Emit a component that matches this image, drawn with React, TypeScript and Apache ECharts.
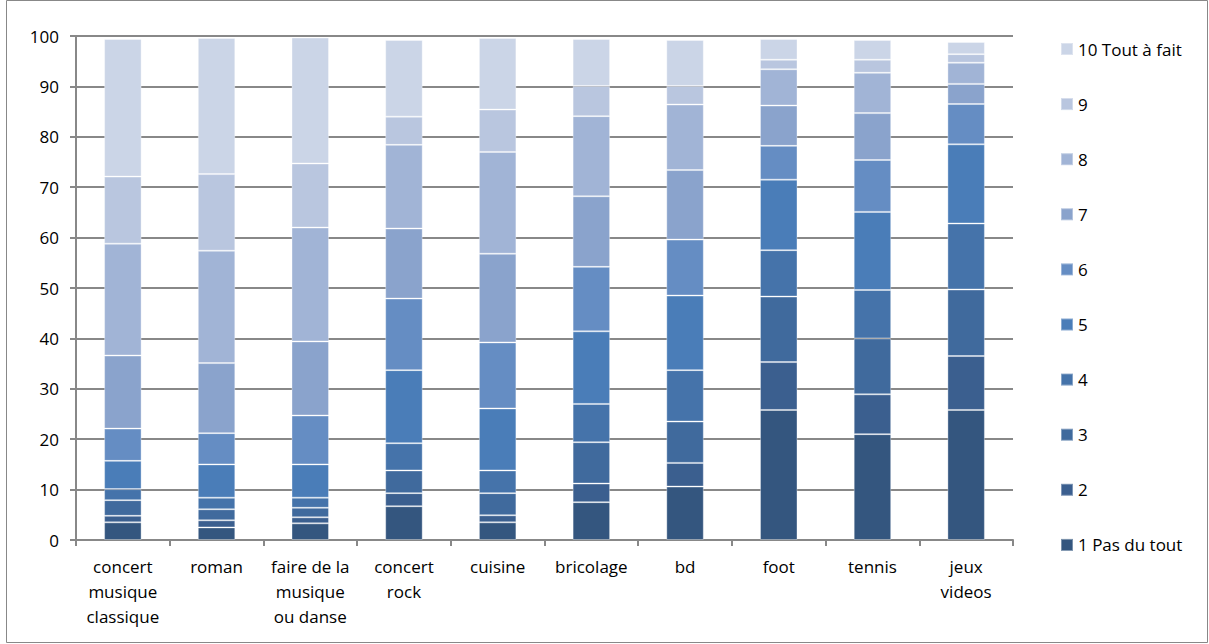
import React, { useEffect, useRef } from "react";
import * as echarts from "echarts";

const categories = [
  "concert\nmusique\nclassique",
  "roman",
  "faire de la\nmusique\nou danse",
  "concert\nrock",
  "cuisine",
  "bricolage",
  "bd",
  "foot",
  "tennis",
  "jeux\nvideos",
];

const seriesNames = ["1 Pas du tout", "2", "3", "4", "5", "6", "7", "8", "9", "10 Tout à fait"];

const s1 = [3.5, 2.5, 3.3, 6.7, 3.5, 7.5, 10.6, 25.8, 21.0, 25.8];
const s2 = [1.3, 1.4, 1.2, 2.6, 1.4, 3.7, 4.7, 9.5, 7.9, 10.7];
const s3 = [3.1, 2.2, 1.9, 4.5, 4.4, 8.2, 8.2, 13.0, 11.1, 13.2];
const s4 = [2.2, 2.3, 2.0, 5.4, 4.5, 7.6, 10.2, 9.2, 9.6, 13.1];
const s5 = [5.6, 6.6, 6.6, 14.5, 12.3, 14.4, 14.8, 14.0, 15.5, 15.7];
const s6 = [6.4, 6.2, 9.7, 14.2, 13.1, 12.8, 11.1, 6.7, 10.3, 8.0];
const s7 = [14.5, 13.9, 14.7, 13.9, 17.6, 14.0, 13.8, 8.0, 9.3, 4.0];
const s8 = [22.2, 22.3, 22.6, 16.6, 20.2, 15.9, 13.0, 7.2, 8.0, 4.2];
const s9 = [13.3, 15.2, 12.7, 5.6, 8.4, 6.0, 3.7, 1.9, 2.6, 1.7];
const s10 = [27.3, 27.0, 25.0, 15.2, 14.2, 9.3, 9.1, 4.1, 3.9, 2.4];

const seriesValues = [s1, s2, s3, s4, s5, s6, s7, s8, s9, s10];

const colors = [
  "#34567f",
  "#3b5f8f",
  "#406a9d",
  "#4573aa",
  "#4a7db8",
  "#658dc3",
  "#8aa3cc",
  "#a1b4d6",
  "#b9c6df",
  "#cbd5e7",
];

const FONT = "'Open Sans', 'Noto Sans', sans-serif";
const FS = 17;

export default function App() {
  const ref = useRef<HTMLDivElement>(null);

  useEffect(() => {
    document.body.style.margin = "0";
    const chart = echarts.init(ref.current!, undefined, { renderer: "svg" });
    chart.setOption({
      animation: false,
      backgroundColor: "#ffffff",
      color: colors,
      textStyle: { fontFamily: FONT, color: "#000" },
      grid: { left: 76, right: 196, top: 36, bottom: 104, containLabel: false },
      legend: {
        orient: "vertical",
        left: 1055,
        top: 33,
        itemWidth: 12,
        itemHeight: 12,
        itemGap: 33.1,
        icon: "rect",
        data: [...seriesNames].reverse(),
        textStyle: { fontFamily: FONT, fontSize: FS, color: "#000", lineHeight: 22, padding: [0, 0, 0, 0] },
        selectedMode: false,
      },
      xAxis: {
        type: "category",
        data: categories,
        axisLine: { lineStyle: { color: "#888888", width: 2 } },
        axisTick: { show: true, length: 6, lineStyle: { color: "#888888", width: 2 } },
        axisLabel: { fontFamily: FONT, fontSize: FS, color: "#000", margin: 14, lineHeight: 25, interval: 0 },
      },
      yAxis: {
        type: "value",
        min: 0,
        max: 100,
        interval: 10,
        axisLine: { show: true, lineStyle: { color: "#888888", width: 2 } },
        axisTick: { show: true, length: 6, lineStyle: { color: "#888888", width: 2 } },
        axisLabel: { fontFamily: FONT, fontSize: FS, color: "#000", margin: 17 },
        splitLine: { show: true, lineStyle: { color: "#888888", width: 2 } },
      },
      series: seriesValues.map((vals, i) => ({
        name: seriesNames[i],
        type: "bar",
        stack: "total",
        data: vals,
        barWidth: "40%",
        itemStyle: { color: colors[i], borderColor: "rgba(255,255,255,0.35)", borderWidth: 1 },
      })),
      graphic: [
        {
          type: "rect",
          shape: { x: 6.5, y: 0.5, width: 1201, height: 642 },
          style: { fill: "none", stroke: "#888888", lineWidth: 1 },
          silent: true,
        },
      ],
    });
    return () => chart.dispose();
  }, []);

  return (
    <div
      ref={ref}
      style={{ position: "absolute", left: 0, top: 0, width: 1209, height: 644 }}
    />
  );
}
